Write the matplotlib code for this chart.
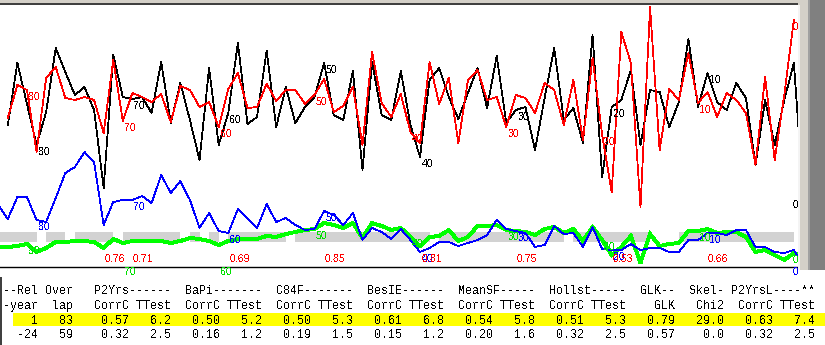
import numpy as np
import matplotlib
matplotlib.use("Agg")
import matplotlib.pyplot as plt
from matplotlib.patches import Rectangle

plt.rcParams['text.antialiased'] = False

# ---------------------------------------------------------------- data
# sample curve (black): positions 0..83
sample_idx = [145, 207, 166, 125, 158, 222, 198, 175, 183, 160,
              82, 215, 173, 171, 173, 157, 208, 147, 187, 150,
              110, 202, 125, 157, 227, 146, 153, 219, 143, 183,
              147, 163, 173, 207, 155, 150, 199, 100, 208, 155,
              150, 199, 145, 113, 190, 202, 173, 151, 177, 202,
              162, 214, 147, 160, 163, 120, 172, 222, 150, 162,
              127, 235, 93, 163, 170, 200, 125, 180, 178, 143,
              168, 231, 163, 197, 168, 160, 187, 172, 105, 170,
              125, 170, 207, 72]
# reference curve (red): positions 0..82
reference_idx = [152, 185, 180, 118, 192, 203, 172, 170, 173, 170,
                 137, 210, 149, 177, 173, 168, 176, 148, 184, 180,
                 163, 168, 143, 181, 197, 162, 163, 186, 169, 180,
                 180, 166, 175, 191, 158, 164, 183, 125, 218, 167,
                 153, 176, 138, 127, 208, 166, 192, 127, 190, 200,
                 170, 173, 143, 175, 172, 157, 187, 180, 145, 190,
                 130, 212, 135, 78, 238, 207, 63, 263, 120, 181,
                 170, 217, 167, 178, 153, 177, 170, 157, 105, 193,
                 110, 175, 250]
# sample raw widths (blue): positions -1..83
sample_raw = [65, 51, 73, 73, 50, 48, 72, 97, 103, 118, 108,
              45, 68, 70, 70, 74, 67, 95, 77, 89, 70,
              42, 57, 39, 37, 61, 52, 42, 66, 48, 52,
              45, 40, 41, 59, 55, 45, 57, 30, 42, 38,
              31, 41, 30, 18, 22, 28, 28, 24, 27, 30,
              35, 50, 41, 39, 37, 23, 25, 44, 36, 37,
              23, 43, 21, 20, 20, 26, 20, 22, 22, 18,
              18, 30, 30, 37, 37, 35, 40, 40, 23, 23,
              18, 17, 20, 5]
# reference raw widths (green): positions -1..83
reference_raw = [23, 23, 24, 26, 18, 22, 28, 28, 29, 29, 28,
                 22, 31, 27, 29, 29, 29, 29, 27, 29, 32,
                 31, 29, 25, 29, 31, 31, 31, 34, 33, 36,
                 38, 40, 41, 47, 45, 42, 47, 32, 47, 44,
                 40, 42, 33, 24, 33, 34, 40, 29, 33, 44,
                 44, 45, 40, 39, 38, 35, 41, 43, 37, 41,
                 29, 43, 30, 15, 23, 34, 7, 36, 24, 26,
                 27, 39, 39, 41, 37, 38, 38, 33, 18, 20,
                 15, 10, 17, 13]

# intervals (start position) where the two raw curves disagree
disagree_at = [3, 6, 11, 18, 20, 22, 29, 44, 58, 67, 68, 69, 82]

# segment correlations and where they are printed
seg_corr = [0.76, 0.71, 0.69, 0.85, 0.81, 0.75, 0.53, 0.66]
seg_corr_pos = [11.2, 14.1, 24.2, 34.1, 44.25, 54.2, 64.2, 74.1]

decades = [80, 70, 60, 50, 40, 30, 20, 10, 0]

# statistics table
rel_year = [1, -24]
overlap = [83, 59]
chronologies = ["P2Yrs", "BaPi", "C84F", "BesIE", "MeanSF", "Hollst"]
corr_c = [[0.57, 0.50, 0.50, 0.61, 0.54, 0.51],
          [0.32, 0.16, 0.19, 0.15, 0.20, 0.32]]
t_test = [[6.2, 5.2, 5.3, 6.8, 5.8, 5.3],
          [2.5, 1.2, 1.5, 1.2, 1.6, 2.5]]
glk = [0.79, 0.57]
skel_chi2 = [29.0, 0.0]
p2yrsl_corr = [0.63, 0.32]
p2yrsl_t = [7.4, 2.5]

# ---------------------------------------------------------------- layout
W, H = 825, 345
STEP = 9.586          # pixels per year
X0 = 7.8              # pixel of position 0
PLOT_R = 798          # right edge of graph window
PLOT_T, PLOT_B = 5, 270

fig = plt.figure(figsize=(W / 100, H / 100), dpi=100)
fig.patch.set_facecolor("white")

bg = fig.add_axes([0, 0, 1, 1])
bg.set_xlim(0, W)
bg.set_ylim(H, 0)
bg.axis("off")

ax = fig.add_axes([0, (H - PLOT_B) / H, PLOT_R / W, (PLOT_B - PLOT_T) / H])
ax.set_xlim(-X0 / STEP, (PLOT_R - X0) / STEP)
ax.set_ylim(0, PLOT_B - PLOT_T)
ax.axis("off")

pos_sample = np.arange(0, len(sample_idx))
pos_ref = np.arange(0, len(reference_idx))
pos_raw = np.arange(-1, len(sample_raw) - 1)

# agreement bars
flags = [k not in disagree_at for k in range(-1, 83)]
start = None
for k, f in zip(range(-1, 84), flags + [False]):
    if f and start is None:
        start = k
    if not f and start is not None:
        ax.add_patch(Rectangle((start, 28), k - start, 10, facecolor="#d2d2d2",
                               edgecolor="none", zorder=1))
        start = None

kw = dict(antialiased=False, solid_joinstyle="miter")
ax.plot(pos_raw, reference_raw, color="#00ff00", lw=2.1, zorder=2, **kw)
ax.plot(pos_raw, sample_raw, color="#0000ff", lw=0.55, zorder=3, **kw)
ax.plot(pos_sample, sample_idx, color="black", lw=0.55, zorder=4, **kw)
ax.plot(pos_ref, reference_idx, color="#ff0000", lw=0.55, zorder=5, **kw)

ax.axhline(3, color="black", lw=1.0, zorder=6)

lab_font = dict(family="Liberation Sans", size=7.7)
x_lab_max = (793 - X0) / STEP


def decade_labels(pos, vals, last_year, color, drop=None):
    drop = drop or {}
    lookup = dict(zip(pos, vals))
    for yr in decades:
        p = last_year - yr
        v = lookup.get(p)
        if v is None:
            continue
        x = min(p + 1.5 / STEP, x_lab_max)
        ax.text(x, v - drop.get(yr, 7), str(yr), color=color, ha="left",
                va="center", clip_on=False, zorder=7, **lab_font)


decade_labels(pos_sample, sample_idx, 83, "black")
decade_labels(pos_ref, reference_idx, 82, "#ff0000")
decade_labels(pos_raw, sample_raw, 83, "#0000ff")
decade_labels(pos_raw, reference_raw, 82, "#00e000", drop={70: 29, 60: 27})

for c, p in zip(seg_corr, seg_corr_pos):
    ax.text(p, 11, f"{c:.2f}", color="#ff0000", ha="center", va="center",
            clip_on=False, zorder=7, **lab_font)

# ---------------------------------------------------------------- window frame
bg.add_patch(Rectangle((0, 0), W, 3, facecolor="#d4d0c8", edgecolor="none"))
bg.add_patch(Rectangle((0, 3), PLOT_R, 2, facecolor="#404040", edgecolor="none"))
bg.add_patch(Rectangle((PLOT_R, 0), 12, PLOT_B, facecolor="#d4d0c8", edgecolor="none"))
bg.add_patch(Rectangle((PLOT_R, 5), 1.5, PLOT_B - 5, facecolor="#f4f4f4", edgecolor="none"))
bg.add_patch(Rectangle((808, 0), 2, PLOT_B, facecolor="#a0a0a0", edgecolor="none"))
bg.add_patch(Rectangle((810, 0), W - 810, PLOT_B, facecolor="#808080", edgecolor="none"))
bg.add_patch(Rectangle((0, 277), 2, H - 277, facecolor="#404040", edgecolor="none"))

# ---------------------------------------------------------------- table
line1 = "--Rel Over   " + "".join(f"{n:-<11}  " for n in chronologies) \
        + "GLK--  Skel- P2YrsL----**"
line2 = "-year  lap   " + "CorrC TTest  " * len(chronologies) \
        + "  GLK   Chi2  CorrC TTest"
rows = []
for r in range(len(rel_year)):
    s = f"{rel_year[r]:5d}{overlap[r]:5d}   "
    s += "".join(f"{c:5.2f}{t:6.1f}  " for c, t in zip(corr_c[r], t_test[r]))
    s += f"{glk[r]:5.2f}{skel_chi2[r]:7.1f}{p2yrsl_corr[r]:7.2f}{p2yrsl_t[r]:6.1f}"
    rows.append(s)

bg.add_patch(Rectangle((13, 313), W - 13, 13, facecolor="#ffff00", edgecolor="none"))
mono = dict(family="Liberation Mono", size=8.4, color="black")
for txt, base in zip([line1, line2] + rows, [294.5, 309, 324, 338]):
    bg.text(3, base, txt, ha="left", va="baseline", **mono)

fig.savefig("out.png", dpi=100)
